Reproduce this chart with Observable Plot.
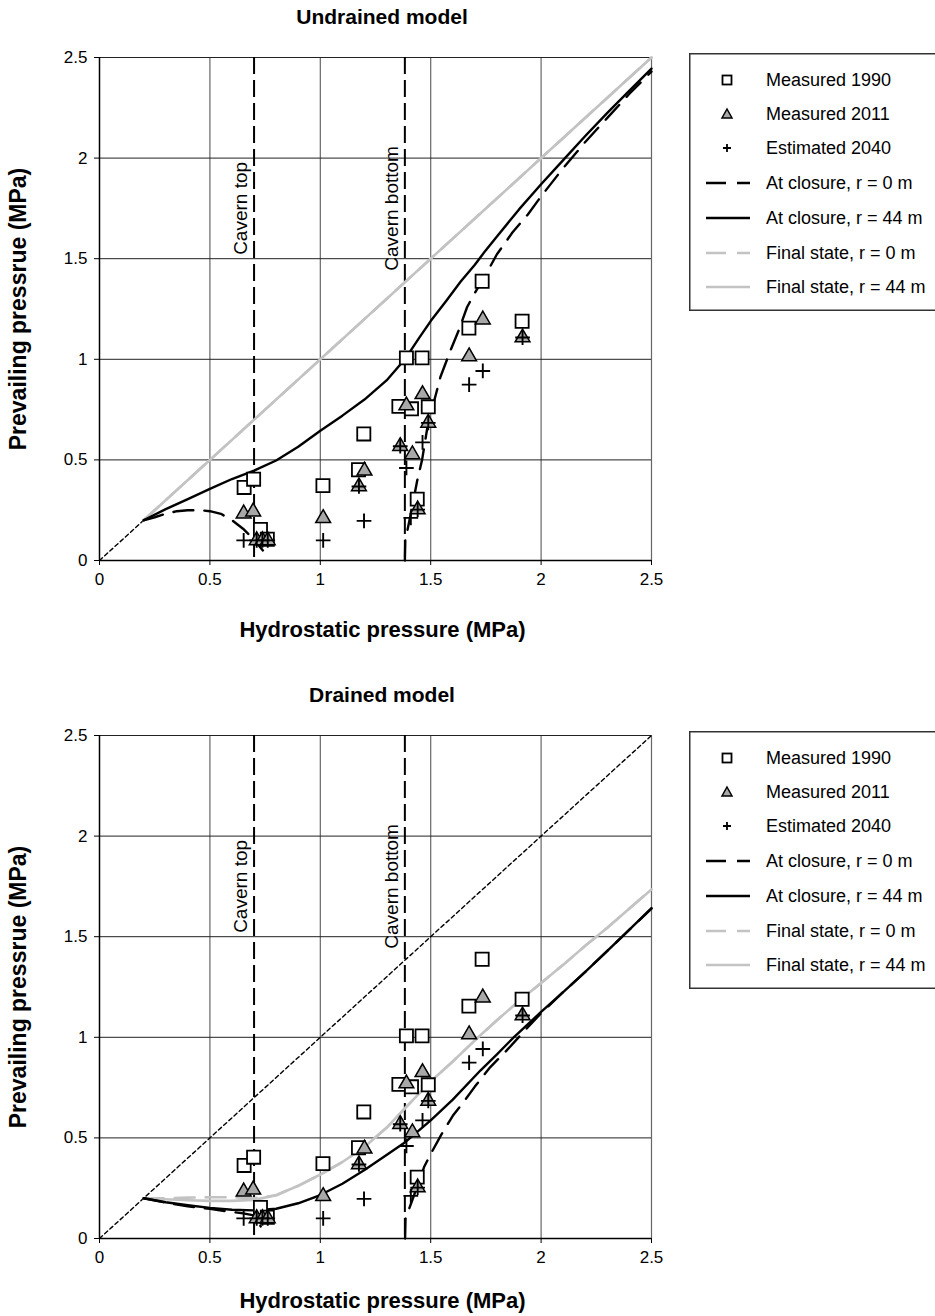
<!DOCTYPE html>
<html><head><meta charset="utf-8">
<script src="https://cdn.jsdelivr.net/npm/d3@7"></script>
<script src="https://cdn.jsdelivr.net/npm/@observablehq/plot@0.6"></script>
<style>
body{margin:0;background:#fff;font-family:"Liberation Sans",Arial,sans-serif;}
#root{position:relative;width:935px;height:1316px;overflow:hidden;background:#fff;}
.title{position:absolute;font-weight:bold;font-size:21px;text-align:center;width:400px;color:#000;}
.chart{position:absolute;left:0;}
.legend{position:absolute;left:689px;}
</style></head><body><div id="root"></div>
<script>
// ---------- data ----------
const xTicks = [0, 0.5, 1, 1.5, 2, 2.5];
const yTicks = [0, 0.5, 1, 1.5, 2, 2.5];
const gridLines = [0.5, 1, 1.5, 2, 2.5];
const cavernX = [0.7, 1.383];
const cavernLabels = ["Cavern top", "Cavern bottom"];
const hydrostaticLine = [[0, 0], [2.5, 2.5]];

const measured1990 = [[0.655,0.363],[0.698,0.404],[0.729,0.154],[0.760,0.106],[1.012,0.372],[1.173,0.451],[1.197,0.629],[1.356,0.766],[1.390,1.007],[1.413,0.754],[1.461,1.007],[1.489,0.764],[1.439,0.305],[1.673,1.155],[1.733,1.388],[1.914,1.189]];
const measured2011 = [[0.653,0.233],[0.696,0.243],[0.712,0.100],[0.738,0.100],[0.762,0.100],[1.013,0.210],[1.175,0.368],[1.200,0.446],[1.362,0.568],[1.390,0.770],[1.417,0.527],[1.463,0.826],[1.489,0.684],[1.441,0.253],[1.674,1.014],[1.736,1.197],[1.916,1.108]];
const estimated2040 = [[0.653,0.100],[0.712,0.100],[0.738,0.100],[0.762,0.100],[1.013,0.100],[1.175,0.368],[1.198,0.197],[1.362,0.568],[1.390,0.460],[1.410,0.212],[1.463,0.587],[1.489,0.684],[1.441,0.253],[1.674,0.874],[1.736,0.942],[1.916,1.108]];

// Undrained model (NaN marks a break in the curve)
const undrainedClosure0 = [[0.2,0.2],[0.25,0.215],[0.3,0.232],[0.35,0.245],[0.4,0.25],[0.457,0.25],[0.5,0.245],[0.55,0.232],[0.6,0.2],[0.65,0.158],[0.7,0.103],[0.74,0.05],[NaN,NaN],[1.383,0],[1.385,0.1],[1.41,0.232],[1.439,0.398],[1.461,0.5],[1.484,0.655],[1.515,0.79],[1.544,0.912],[1.59,1.045],[1.627,1.144],[1.665,1.26],[1.7,1.33],[1.756,1.434],[1.8,1.522],[1.87,1.63],[1.94,1.72],[2.0,1.81],[2.1,1.95],[2.2,2.08],[2.3,2.2],[2.4,2.32],[2.5,2.43]];
const undrainedClosure44 = [[0.2,0.2],[0.3,0.255],[0.4,0.305],[0.5,0.356],[0.6,0.405],[0.7,0.447],[0.8,0.497],[0.9,0.565],[1.0,0.645],[1.1,0.72],[1.2,0.8],[1.3,0.895],[1.383,1.0],[1.45,1.11],[1.5,1.19],[1.57,1.29],[1.635,1.385],[1.7,1.47],[1.748,1.54],[1.8,1.61],[1.9,1.745],[2.0,1.87],[2.1,1.99],[2.2,2.11],[2.3,2.225],[2.4,2.335],[2.5,2.445]];
const undrainedFinal0 = [[0.2,0.2],[2.5,2.5]];
const undrainedFinal44 = [[0.2,0.2],[2.5,2.5]];

// Drained model
const drainedClosure0 = [[0.2,0.2],[0.3,0.178],[0.4,0.16],[0.5,0.147],[0.6,0.132],[0.65,0.125],[0.7,0.115],[0.73,0.06],[NaN,NaN],[1.384,0],[1.386,0.098],[1.416,0.189],[1.47,0.355],[1.5,0.42],[1.55,0.52],[1.6,0.61],[1.65,0.68],[1.7,0.755],[1.77,0.852],[1.84,0.93],[1.94,1.05],[2.0,1.12],[2.1,1.225],[2.2,1.325],[2.3,1.43],[2.4,1.535],[2.5,1.64]];
const drainedClosure44 = [[0.2,0.2],[0.3,0.18],[0.4,0.165],[0.5,0.152],[0.6,0.143],[0.7,0.14],[0.8,0.148],[0.9,0.175],[1.0,0.216],[1.1,0.272],[1.2,0.34],[1.3,0.415],[1.386,0.48],[1.5,0.587],[1.6,0.69],[1.726,0.836],[1.8,0.915],[1.876,1.0],[2.0,1.126],[2.1,1.225],[2.2,1.325],[2.3,1.43],[2.4,1.535],[2.5,1.642]];
const drainedFinal0 = [[0.2,0.2],[0.3,0.2],[0.4,0.203],[0.5,0.205],[0.6,0.205],[0.7,0.2],[0.8,0.215],[0.9,0.262],[1.0,0.318],[1.1,0.38],[1.2,0.455],[1.3,0.55],[1.386,0.65],[1.5,0.78],[1.6,0.88],[1.7,0.985],[1.8,1.085],[1.9,1.18],[2.0,1.27],[2.1,1.36],[2.2,1.455],[2.3,1.545],[2.4,1.64],[2.5,1.735]];
const drainedFinal44 = [[0.2,0.2],[0.3,0.195],[0.4,0.19],[0.5,0.187],[0.6,0.187],[0.7,0.192],[0.8,0.215],[0.9,0.262],[1.0,0.318],[1.1,0.38],[1.2,0.455],[1.3,0.55],[1.386,0.65],[1.5,0.78],[1.6,0.88],[1.7,0.985],[1.8,1.085],[1.9,1.18],[2.0,1.27],[2.1,1.36],[2.2,1.455],[2.3,1.545],[2.4,1.64],[2.5,1.735]];

const legendLabels = ["Measured 1990","Measured 2011","Estimated 2040","At closure, r = 0 m","At closure, r = 44 m","Final state, r = 0 m","Final state, r = 44 m"];
const xLabel = "Hydrostatic pressure (MPa)";
const yLabel = "Prevailing pressrue (MPa)";

// ---------- style ----------
const FONT = '"Liberation Sans", Arial, sans-serif';
const GRAY = "#c3c3c3";
const TRI = "#a8a8a8";
const DASH = "20,11";

const X = d => d[0], Y = d => d[1];

function makeChart(closure0, closure44, final0, final44, labelDy) {
  return Plot.plot({
    width: 680, height: 620,
    marginLeft: 99, marginRight: 29, marginTop: 17, marginBottom: 100,
    x: {domain: [0, 2.5]},
    y: {domain: [0, 2.5]},
    style: {fontFamily: FONT, fontSize: "17px", color: "#000", background: "transparent", overflow: "visible"},
    marks: [
      Plot.ruleX(gridLines, {stroke: "#666", strokeWidth: 1.2}),
      Plot.ruleY(gridLines, {stroke: "#222", strokeWidth: 1}),
      Plot.axisX({ticks: xTicks, tickFormat: d => String(d), tickSize: 5, tickPadding: 7, label: null, fontSize: 17, stroke: "#000"}),
      Plot.axisY({ticks: yTicks, tickFormat: d => String(d), tickSize: 5, tickPadding: 7, label: null, fontSize: 17, stroke: "#000"}),
      Plot.ruleX([0], {stroke: "#000", strokeWidth: 1.5}),
      Plot.ruleY([0], {stroke: "#000", strokeWidth: 1.5}),
      Plot.line(hydrostaticLine, {x: X, y: Y, stroke: "#000", strokeWidth: 1.4, strokeDasharray: "4,3"}),
      Plot.ruleX(cavernX, {stroke: "#000", strokeWidth: 2, strokeDasharray: "17,6"}),
      Plot.text(cavernLabels, {x: (d, i) => cavernX[i], y: 1.75, rotate: -90, dx: -13, textAnchor: "middle", lineAnchor: "middle", fontSize: 19, fill: "#000"}),
      Plot.line(final0, {x: X, y: Y, stroke: GRAY, strokeWidth: 2.6, strokeDasharray: DASH}),
      Plot.line(final44, {x: X, y: Y, stroke: GRAY, strokeWidth: 2.6}),
      Plot.line(closure0, {x: X, y: Y, stroke: "#000", strokeWidth: 2.4, strokeDasharray: DASH}),
      Plot.line(closure44, {x: X, y: Y, stroke: "#000", strokeWidth: 2.4}),
      Plot.dot(measured1990, {x: X, y: Y, symbol: "square", r: 7.4, fill: "#fff", stroke: "#000", strokeWidth: 1.8}),
      Plot.dot(measured2011, {x: X, y: Y, symbol: "triangle", r: 5.5, fill: TRI, stroke: "#000", strokeWidth: 1.5}),
      Plot.dot(estimated2040, {x: X, y: Y, symbol: "plus", r: 4.8, stroke: "#000", strokeWidth: 1.9}),
      Plot.text([xLabel], {frameAnchor: "bottom", dy: labelDy, dx: 7, textAnchor: "middle", lineAnchor: "middle", fontSize: 22, fontWeight: "bold", fill: "#000"}),
      Plot.text([yLabel], {frameAnchor: "left", dx: -81, rotate: -90, textAnchor: "middle", lineAnchor: "middle", fontSize: 23, fontWeight: "bold", fill: "#000"})
    ]
  });
}

function makeLegend() {
  const w = 270, h = 258;
  const svg = d3.create("svg").attr("width", w).attr("height", h).style("display", "block");
  svg.append("rect").attr("x", 0.75).attr("y", 0.75).attr("width", w + 10).attr("height", h - 1.5)
    .attr("fill", "#fff").attr("stroke", "#333").attr("stroke-width", 1.5);
  const rowY = [27, 61, 95, 130, 165, 200, 234];
  const cx = 38;
  legendLabels.forEach((lab, i) => {
    const g = svg.append("g").attr("transform", `translate(0,${rowY[i]})`);
    if (i === 0) g.append("rect").attr("x", cx - 4.5).attr("y", -4.5).attr("width", 9).attr("height", 9).attr("fill", "#fff").attr("stroke", "#000").attr("stroke-width", 1.8);
    else if (i === 1) g.append("path").attr("d", `M${cx},-5 L${cx+5},4 L${cx-5},4 Z`).attr("fill", TRI).attr("stroke", "#000").attr("stroke-width", 1.5);
    else if (i === 2) g.append("path").attr("d", `M${cx-4},0 H${cx+4} M${cx},-4 V4`).attr("stroke", "#000").attr("stroke-width", 1.8);
    else {
      const col = i < 5 ? "#000" : GRAY;
      const ln = g.append("line").attr("x1", 17).attr("x2", 61).attr("y1", 0).attr("y2", 0).attr("stroke", col).attr("stroke-width", 2.6);
      if (i === 3 || i === 5) ln.attr("stroke-dasharray", DASH);
    }
    g.append("text").attr("x", 77).attr("y", 0).attr("dy", "0.35em").attr("font-size", 18).attr("font-family", FONT).attr("fill", "#000").text(lab);
  });
  return svg.node();
}

const root = document.getElementById("root");
function addBlock(offset, title, c0, c44, f0, f44, labelDy) {
  const t = document.createElement("div");
  t.className = "title"; t.textContent = title;
  t.style.left = (382 - 200) + "px"; t.style.top = (offset + 5) + "px";
  root.appendChild(t);
  const ch = makeChart(c0, c44, f0, f44, labelDy);
  const wrap = document.createElement("div");
  wrap.className = "chart"; wrap.style.top = (offset + 40) + "px";
  wrap.appendChild(ch);
  root.appendChild(wrap);
  const lg = document.createElement("div");
  lg.className = "legend"; lg.style.top = (offset + 53) + "px";
  lg.appendChild(makeLegend());
  root.appendChild(lg);
}
addBlock(0, "Undrained model", undrainedClosure0, undrainedClosure44, undrainedFinal0, undrainedFinal44, 69);
addBlock(678, "Drained model", drainedClosure0, drainedClosure44, drainedFinal0, drainedFinal44, 62);
</script></body></html>
